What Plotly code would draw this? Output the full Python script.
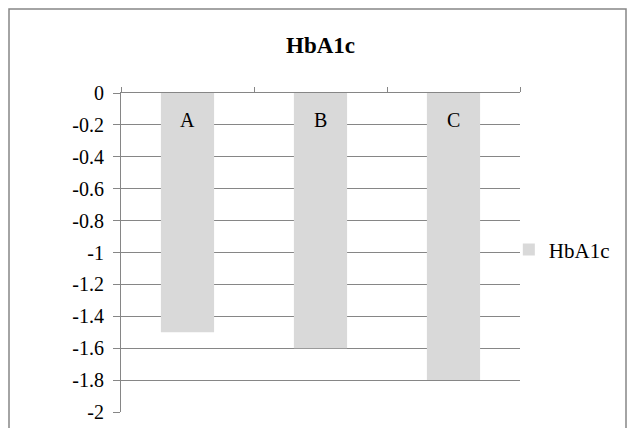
import plotly.graph_objects as go

categories = ["A", "B", "C"]
values = [-1.5, -1.6, -1.8]
series_name = "HbA1c"
title_text = "HbA1c"
y_ticks = [0, -0.2, -0.4, -0.6, -0.8, -1, -1.2, -1.4, -1.6, -1.8, -2]

FONT = "Times New Roman, Liberation Serif, Times, serif"
GRID = "#868686"

fig = go.Figure()
fig.add_trace(go.Bar(
    x=categories, y=values, name=series_name,
    marker=dict(color="#d9d9d9", line=dict(width=0)),
    width=0.4, showlegend=True,
))

fig.update_layout(
    width=627, height=428,
    margin=dict(l=121, r=107, t=93, b=16, autoexpand=False),
    paper_bgcolor="white", plot_bgcolor="white",
    font=dict(family=FONT, size=20, color="black"),
    title=dict(text="<b>" + title_text + "</b>", x=(121 + 520) / 2 / 627, xanchor="center",
               y=1 - 45 / 428, yanchor="middle", yref="container",
               font=dict(family=FONT, size=23, color="black", weight="bold")),
    showlegend=True,
    legend=dict(x=0.972, y=0.508, xanchor="left", yanchor="middle",
                font=dict(family=FONT, size=21, color="black"),
                bgcolor="rgba(0,0,0,0)", itemwidth=30),
    bargap=0.6,
)

fig.update_xaxes(
    type="category", side="top", showticklabels=False,
    tickson="boundaries", ticks="outside", ticklen=5, tickcolor=GRID, tickwidth=1,
    showline=True, linecolor=GRID, linewidth=1,
    showgrid=False, zeroline=False, automargin=False,
)
fig.update_yaxes(
    range=[-2, 0], tickvals=y_ticks, ticktext=[str(v) for v in y_ticks],
    ticks="outside", ticklen=7, tickcolor=GRID, tickwidth=1,
    ticklabelstandoff=5,
    showline=True, linecolor=GRID, linewidth=1,
    showgrid=True, gridcolor=GRID, gridwidth=1, zeroline=False, automargin=False,
    tickfont=dict(family=FONT, size=20, color="black"),
)

# category labels inside the bars, just below the category axis
for c in categories:
    fig.add_annotation(x=c, y=1, xref="x", yref="paper", yanchor="top", yshift=-14,
                       text=c, showarrow=False,
                       font=dict(family=FONT, size=20, color="black"))

# outer chart border
fig.add_shape(type="rect", xref="paper", yref="paper",
              x0=(9 - 121) / 399, x1=(626 - 121) / 399,
              y0=(412 - 440) / 319, y1=(412 - 9) / 319,
              line=dict(color=GRID, width=1.5), layer="below")

fig.write_html("out.html", config={"displayModeBar": False},
               post_script="document.body.style.margin='0';document.body.style.overflow='hidden';")
